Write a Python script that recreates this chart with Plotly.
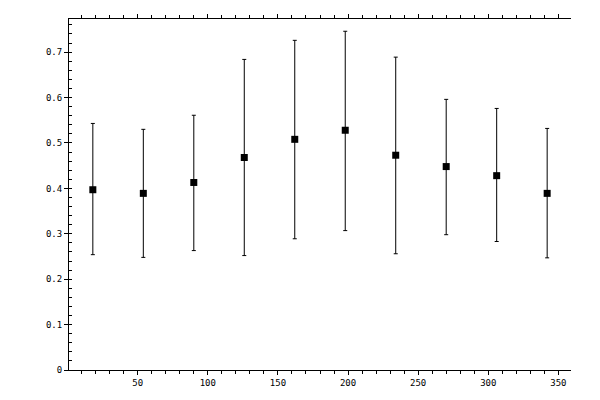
import plotly.graph_objects as go

# --- data ---
x_vals = [18, 54, 90, 126, 162, 198, 234, 270, 306, 342]
y_vals = [0.397, 0.389, 0.413, 0.468, 0.508, 0.528, 0.473, 0.448, 0.428, 0.389]
y_upper = [0.543, 0.530, 0.561, 0.684, 0.726, 0.746, 0.689, 0.596, 0.576, 0.532]
y_lower = [0.254, 0.248, 0.263, 0.252, 0.289, 0.307, 0.256, 0.298, 0.283, 0.247]

x_range = [1, 359]
y_range = [0, 0.773]

err_plus = [u - v for u, v in zip(y_upper, y_vals)]
err_minus = [v - l for v, l in zip(y_vals, y_lower)]

font = dict(family="DejaVu Sans Mono", size=9, color="black")

fig = go.Figure()
fig.add_trace(go.Scatter(
    x=x_vals, y=y_vals, mode="markers",
    marker=dict(symbol="square", size=7, color="black"),
    error_y=dict(type="data", symmetric=False, array=err_plus, arrayminus=err_minus,
                 color="black", thickness=1, width=2),
    showlegend=False,
))

common = dict(showgrid=False, zeroline=False, showline=True, linecolor="black",
              linewidth=1, tickcolor="black", tickwidth=1)

fig.update_layout(
    width=600, height=400,
    margin=dict(l=69, r=29, t=19, b=30),
    paper_bgcolor="white", plot_bgcolor="white",
    font=font,
    # bottom axis: labels, outward majors and minors, mirrored on top
    xaxis=dict(range=x_range, dtick=50, tick0=0, ticks="outside", ticklen=4,
               mirror="ticks", tickfont=font,
               minor=dict(dtick=10, tick0=0, ticks="outside", ticklen=3,
                          tickcolor="black", tickwidth=1), **common),
    # inward half of the major x ticks, both top and bottom
    xaxis2=dict(range=x_range, dtick=50, tick0=0, ticks="inside", ticklen=4,
                overlaying="x", mirror="ticks", showticklabels=False, **common),
    # left axis: labels, outward majors, inward minors
    yaxis=dict(range=y_range, dtick=0.1, tick0=0, ticks="outside", ticklen=4,
               tickfont=font,
               minor=dict(dtick=0.02, tick0=0, ticks="inside", ticklen=3,
                          tickcolor="black", tickwidth=1), **common),
    # right axis: outward majors and minors
    yaxis2=dict(range=y_range, dtick=0.1, tick0=0, ticks="outside", ticklen=4,
                overlaying="y", side="right", showticklabels=False,
                minor=dict(dtick=0.02, tick0=0, ticks="outside", ticklen=3,
                           tickcolor="black", tickwidth=1), **common),
    # inward half of the major y ticks, left and right
    yaxis3=dict(range=y_range, dtick=0.1, tick0=0, ticks="inside", ticklen=4,
                overlaying="y", mirror="ticks", showticklabels=False, **common),
)

# drop the browser's default body margin so the figure sits at the window corner
fig.write_html("out.html", config={"displayModeBar": False},
               post_script="document.body.style.margin='0';")
